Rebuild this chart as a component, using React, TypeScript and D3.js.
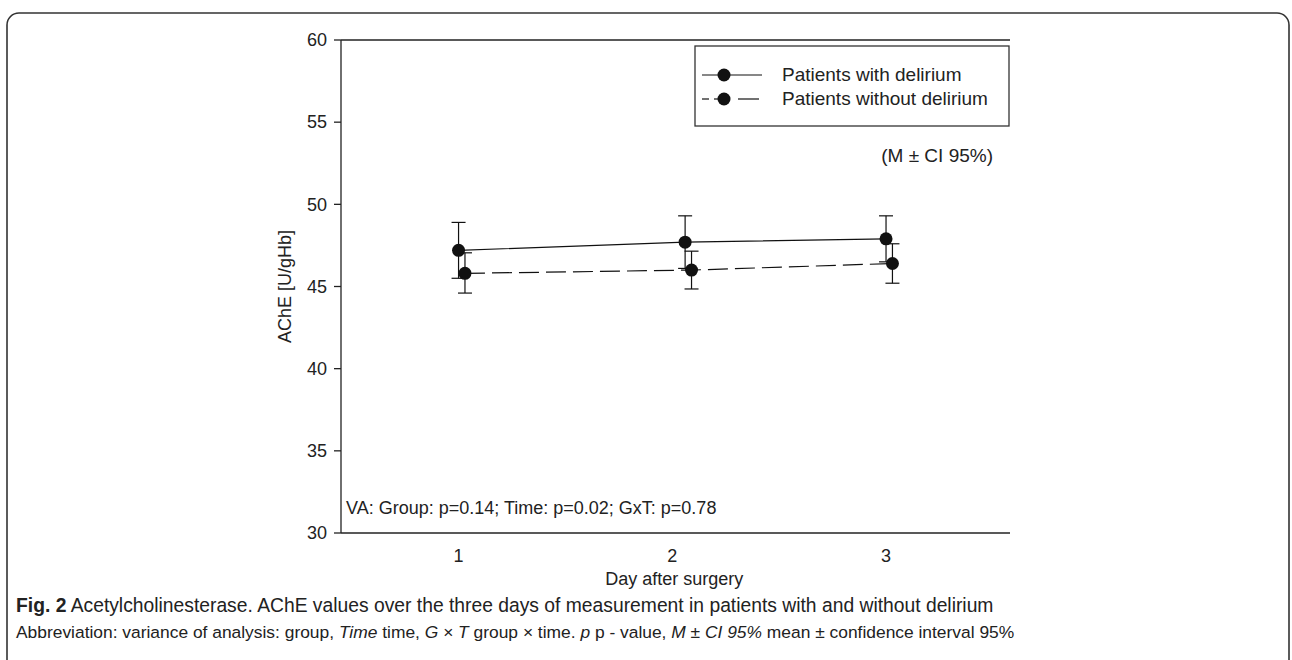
import React from 'react'
import * as d3 from 'd3'

const width = 1292
const height = 660

// day after surgery
const days = [1, 2, 3]
const dayTicks = ['1', '2', '3']

// patients with delirium (solid)
const withX = [1.0, 2.06, 3.0]
const withMean = [47.2, 47.7, 47.9]
const withLow = [45.5, 46.1, 46.5]
const withHigh = [48.9, 49.3, 49.3]

// patients without delirium (dashed)
const withoutX = [1.03, 2.09, 3.03]
const withoutMean = [45.8, 46.0, 46.4]
const withoutLow = [44.6, 44.85, 45.2]
const withoutHigh = [47.05, 47.15, 47.6]

const yTicks = [30, 35, 40, 45, 50, 55, 60]

const plot = { left: 341, right: 1010, top: 40, bottom: 533 }
const font = 'Liberation Sans, Arial, Helvetica, sans-serif'
const captionFont = 'Liberation Sans Narrow, Arial Narrow, Liberation Sans, sans-serif'

const x = d3.scaleLinear().domain([0.45, 3.58]).range([plot.left, plot.right])
const y = d3.scaleLinear().domain([30, 60]).range([plot.bottom, plot.top])

type Series = { xs: number[]; mean: number[]; low: number[]; high: number[]; dash?: string }

const series: Series[] = [
    { xs: withX, mean: withMean, low: withLow, high: withHigh },
    { xs: withoutX, mean: withoutMean, low: withoutLow, high: withoutHigh, dash: '20,7' },
]

const lineGen = d3
    .line<[number, number]>()
    .x((d) => x(d[0]))
    .y((d) => y(d[1]))

const App = () => {
    return (
        <svg
            width={width}
            height={height}
            style={{ position: 'absolute', left: 0, top: 0, background: '#fff' }}
        >
            {/* outer figure frame */}
            <rect x={7} y={13} width={1282} height={700} rx={12} fill="none" stroke="#333" strokeWidth={1.6} />

            {/* axes */}
            <line x1={plot.left} x2={plot.right} y1={plot.top} y2={plot.top} stroke="#222" strokeWidth={1.3} />
            <line x1={plot.left} x2={plot.right} y1={plot.bottom} y2={plot.bottom} stroke="#222" strokeWidth={1.3} />
            <line x1={plot.left} x2={plot.left} y1={plot.top} y2={plot.bottom} stroke="#222" strokeWidth={1.3} />
            {yTicks.map((t) => (
                <g key={t}>
                    <line x1={plot.left - 7} x2={plot.left} y1={y(t)} y2={y(t)} stroke="#222" strokeWidth={1.3} />
                    <text
                        x={plot.left - 14}
                        y={y(t)}
                        dy="0.35em"
                        textAnchor="end"
                        fontFamily={font}
                        fontSize={18}
                        fill="#222"
                    >
                        {t}
                    </text>
                </g>
            ))}
            {days.map((d, i) => (
                <text key={d} x={x(d)} y={562} textAnchor="middle" fontFamily={font} fontSize={18} fill="#222">
                    {dayTicks[i]}
                </text>
            ))}
            <text x={x(2) + 2} y={585} textAnchor="middle" fontFamily={font} fontSize={18} fill="#222">
                Day after surgery
            </text>
            <text
                transform={`translate(291, ${y(45)}) rotate(-90)`}
                textAnchor="middle"
                fontFamily={font}
                fontSize={18}
                fill="#222"
            >
                AChE [U/gHb]
            </text>

            {/* series */}
            {series.map((s, si) => (
                <g key={si}>
                    <path
                        d={lineGen(s.xs.map((v, i) => [v, s.mean[i]]) as [number, number][]) || ''}
                        fill="none"
                        stroke="#111"
                        strokeWidth={1.2}
                        strokeDasharray={s.dash}
                    />
                    {s.xs.map((v, i) => (
                        <g key={i}>
                            <line x1={x(v)} x2={x(v)} y1={y(s.low[i])} y2={y(s.high[i])} stroke="#111" strokeWidth={1.2} />
                            <line x1={x(v) - 7} x2={x(v) + 7} y1={y(s.low[i])} y2={y(s.low[i])} stroke="#111" strokeWidth={1.2} />
                            <line x1={x(v) - 7} x2={x(v) + 7} y1={y(s.high[i])} y2={y(s.high[i])} stroke="#111" strokeWidth={1.2} />
                            <circle cx={x(v)} cy={y(s.mean[i])} r={6.5} fill="#111" />
                        </g>
                    ))}
                </g>
            ))}

            {/* legend */}
            <rect x={695} y={46} width={314} height={80} fill="#fff" stroke="#333" strokeWidth={1.3} />
            <line x1={702} x2={762} y1={75} y2={75} stroke="#111" strokeWidth={1.2} />
            <circle cx={724} cy={75} r={6.5} fill="#111" />
            <g stroke="#111" strokeWidth={1.2}>
                <line x1={702} x2={709} y1={99} y2={99} />
                <line x1={714} x2={724} y1={99} y2={99} />
                <line x1={738} x2={759} y1={99} y2={99} />
            </g>
            <circle cx={724} cy={99} r={6.5} fill="#111" />
            <text x={782} y={81} fontFamily={font} fontSize={19} fill="#222">
                Patients with delirium
            </text>
            <text x={782} y={105} fontFamily={font} fontSize={19} fill="#222">
                Patients without delirium
            </text>

            <text x={993} y={162} textAnchor="end" fontFamily={font} fontSize={19} fill="#222">
                (M ± CI 95%)
            </text>
            <text x={346} y={514} fontFamily={font} fontSize={18} fill="#222">
                VA: Group: p=0.14; Time: p=0.02; GxT: p=0.78
            </text>

            {/* caption */}
            <text x={16} y={612} fontFamily={captionFont} fontSize={19.3} fill="#222">
                <tspan fontWeight="bold">Fig. 2</tspan> Acetylcholinesterase. AChE values over the three days of
                measurement in patients with and without delirium
            </text>
            <text x={16} y={638} fontFamily={captionFont} fontSize={17.4} fill="#222">
                Abbreviation: variance of analysis: group, <tspan fontStyle="italic">Time</tspan> time,{' '}
                <tspan fontStyle="italic">G × T</tspan> group × time. <tspan fontStyle="italic">p</tspan> p - value,{' '}
                <tspan fontStyle="italic">M ± CI 95%</tspan> mean ± confidence interval 95%
            </text>
        </svg>
    )
}

export default App
